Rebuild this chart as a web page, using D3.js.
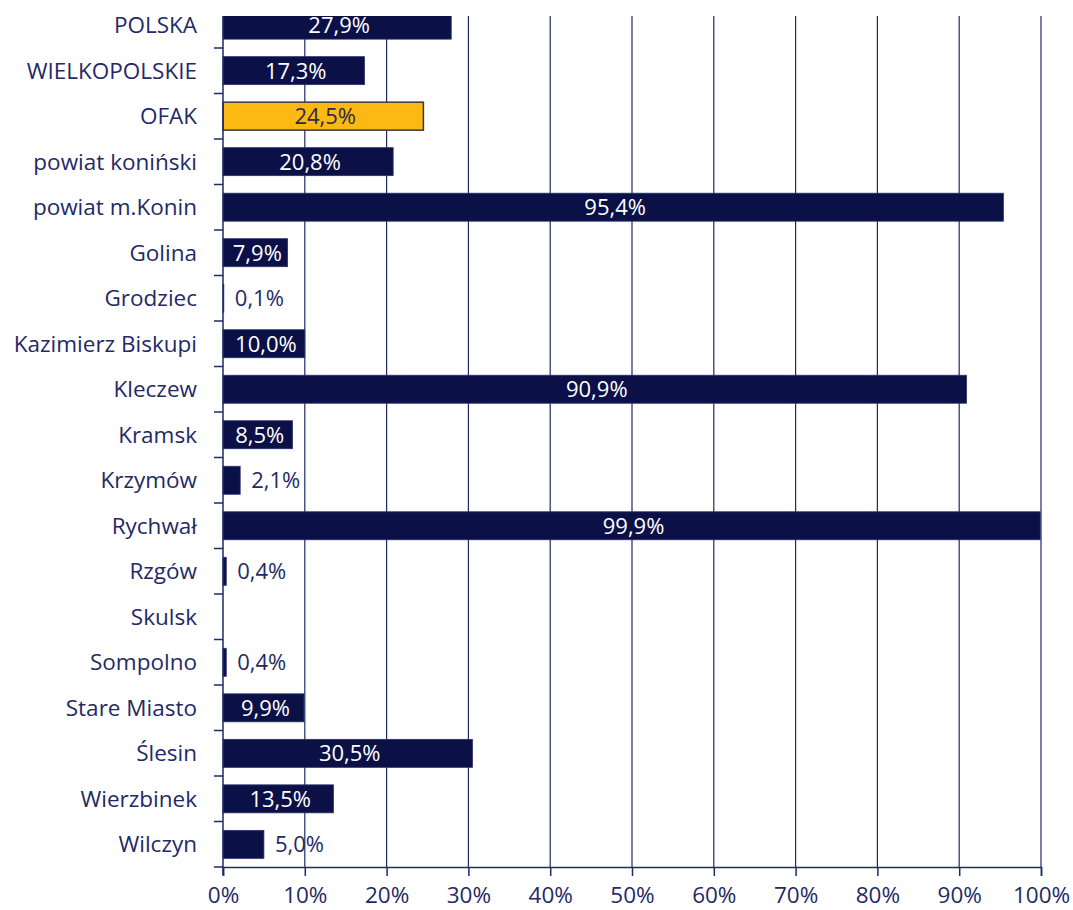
<!DOCTYPE html>
<html>
<head>
<meta charset="utf-8">
<script src="https://cdnjs.cloudflare.com/ajax/libs/d3/7.8.5/d3.min.js"></script>
<style>
  body { margin: 0; background: #fff; }
  text { font-family: "Open Sans", sans-serif; }
</style>
</head>
<body>
<div id="chart"></div>
<script>
// categories and values (%)
var categories = ["POLSKA", "WIELKOPOLSKIE", "OFAK", "powiat koniński", "powiat m.Konin",
  "Golina", "Grodziec", "Kazimierz Biskupi", "Kleczew", "Kramsk", "Krzymów", "Rychwał",
  "Rzgów", "Skulsk", "Sompolno", "Stare Miasto", "Ślesin", "Wierzbinek", "Wilczyn"];
var values = [27.9, 17.3, 24.5, 20.8, 95.4, 7.9, 0.1, 10.0, 90.9, 8.5, 2.1, 99.9,
  0.4, null, 0.4, 9.9, 30.5, 13.5, 5.0];
var highlight = ["OFAK"];
var xTicks = [0, 10, 20, 30, 40, 50, 60, 70, 80, 90, 100];

var W = 1073, H = 910;
var navy = "#0b1046", axisCol = "#1f2a66", gold = "#fdb813";
var pLeft = 223, pRight = 1041, pTop = 2.5, pBottom = 867, clipTop = 16;

var svg = d3.select("#chart").append("svg").attr("width", W).attr("height", H);

svg.append("defs").append("clipPath").attr("id", "plot")
  .append("rect").attr("x", 0).attr("y", clipTop).attr("width", W).attr("height", H - clipTop);

var g = svg.append("g").attr("clip-path", "url(#plot)");

var x = d3.scaleLinear().domain([0, 100]).range([pLeft, pRight]);
var y = d3.scaleBand().domain(categories).range([pTop, pBottom]).paddingInner(0.385).paddingOuter(0.19);
var band = d3.scaleBand().domain(categories).range([pTop, pBottom]);

// vertical grid
g.selectAll(".grid").data(xTicks.slice(1)).enter().append("line")
  .attr("x1", d => x(d)).attr("x2", d => x(d))
  .attr("y1", pTop).attr("y2", pBottom)
  .attr("stroke", axisCol).attr("stroke-width", 1.2);

var data = categories.map((c, i) => ({c: c, v: values[i]}));

g.selectAll(".bar").data(data.filter(d => d.v != null)).enter().append("rect")
  .attr("x", x(0)).attr("y", d => y(d.c))
  .attr("width", d => x(d.v) - x(0)).attr("height", y.bandwidth())
  .attr("fill", d => highlight.includes(d.c) ? gold : navy)
  .attr("stroke", d => highlight.includes(d.c) ? "#3a3a3a" : "#2a3070")
  .attr("stroke-width", d => highlight.includes(d.c) ? 1.5 : 0.8);

// value labels
g.selectAll(".val").data(data.filter(d => d.v != null)).enter().append("text")
  .attr("x", d => d.v >= 7 ? (x(0) + x(d.v)) / 2 + 2 : x(d.v) + 11)
  .attr("y", d => y(d.c) + y.bandwidth() / 2)
  .attr("dy", "0.36em")
  .attr("text-anchor", d => d.v >= 7 ? "middle" : "start")
  .attr("font-size", 22)
  .attr("fill", d => highlight.includes(d.c) ? "#2a2a40" : (d.v >= 7 ? "#fff" : "#1f2a66"))
  .text(d => d.v.toFixed(1).replace(".", ",") + "%");

// left axis line
svg.append("line").attr("x1", pLeft).attr("x2", pLeft).attr("y1", clipTop).attr("y2", pBottom + 8)
  .attr("stroke", axisCol).attr("stroke-width", 1.5);
// category ticks (between bands)
svg.selectAll(".ytick").data(categories).enter().append("line")
  .attr("x1", pLeft - 9).attr("x2", pLeft)
  .attr("y1", d => band(d) + band.bandwidth())
  .attr("y2", d => band(d) + band.bandwidth())
  .attr("stroke", axisCol).attr("stroke-width", 1.5);

// category labels
svg.selectAll(".cat").data(categories).enter().append("text")
  .attr("x", pLeft - 26).attr("y", d => band(d) + band.bandwidth() / 2)
  .attr("dy", "0.36em").attr("text-anchor", "end")
  .attr("font-size", 22.5).attr("fill", "#1f2a66")
  .text(d => d);

// bottom axis
var xAxis = svg.append("g").attr("transform", "translate(0," + pBottom + ")")
  .call(d3.axisBottom(x).tickValues(xTicks).tickSize(9).tickPadding(11).tickFormat(d => d + "%"));
xAxis.select(".domain").attr("stroke", axisCol).attr("stroke-width", 1.5);
xAxis.selectAll(".tick line").attr("stroke", axisCol).attr("stroke-width", 1.5);
xAxis.selectAll(".tick text").attr("font-size", 22.5).attr("fill", "#1f2a66")
  .attr("font-family", "Open Sans, sans-serif");
</script>
</body>
</html>
